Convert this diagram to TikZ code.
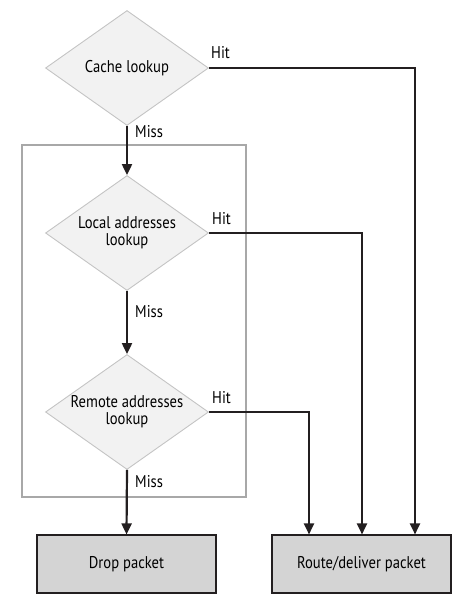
\documentclass[tikz,border=0pt]{standalone}
\usepackage{fontspec}
\setmainfont{PT Sans}[FakeStretch=0.86]
\usetikzlibrary{shapes.geometric,arrows.meta}
\definecolor{dfill}{HTML}{F2F2F2}
\definecolor{dline}{HTML}{C4C4C4}
\definecolor{bfill}{HTML}{D4D4D4}
\definecolor{gline}{HTML}{A8A8A8}
\definecolor{aline}{HTML}{231F20}
\tikzset{
  decision/.style={diamond, aspect=1.417, draw=dline, fill=dfill, line width=0.9pt, minimum width=163pt, minimum height=115pt, inner sep=-6pt, align=center, font=\fontsize{17}{19}\selectfont},
  actbox/.style={rectangle, draw=aline, fill=bfill, line width=1.1pt, minimum width=179pt, minimum height=58pt, inner sep=0pt, font=\fontsize{17}{19}\selectfont},
  flow/.style={draw=aline, line width=2.2pt, -{Triangle[length=11pt,width=10pt]}},
  lbl/.style={font=\fontsize{17}{19}\selectfont, inner sep=0pt, anchor=west},
}
\begin{document}
\begin{tikzpicture}[x=1pt,y=-1pt]
\useasboundingbox (0,0) rectangle (465,607);
\node[draw=gline, line width=1.5pt, minimum width=224pt, minimum height=352pt, inner sep=0pt] (grp) at (134,321) {};
\node[decision] (cache) at (127,68) {Cache lookup};
\node[decision] (local) at (127,233) {Local addresses\\[-2pt]lookup};
\node[decision] (remote) at (127,412) {Remote addresses\\[-2pt]lookup};
\node[actbox] (drop) at (126.5,564) {Drop packet};
\node[actbox] (route) at (361.5,564) {Route/deliver packet};
\coordinate (c1) at (415,68);
\coordinate (c2) at (362,233);
\coordinate (c3) at (309,412);
\draw[flow] (cache.south) -- (local.north);
\draw[flow] (local.south) -- (remote.north);
\draw[flow] (remote.south) -- (drop.north);
\draw[flow] (cache.east) -- (c1) -- (c1 |- route.north);
\draw[flow] (local.east) -- (c2) -- (c2 |- route.north);
\draw[flow] (remote.east) -- (c3) -- (c3 |- route.north);
\node[lbl] (h1) at (211,53) {Hit};
\node[lbl] (h2) at (212,219) {Hit};
\node[lbl] (h3) at (212,398) {Hit};
\node[lbl] (m1) at (135,132) {Miss};
\node[lbl] (m2) at (135,312) {Miss};
\node[lbl] (m3) at (135,482) {Miss};
\end{tikzpicture}
\end{document}
